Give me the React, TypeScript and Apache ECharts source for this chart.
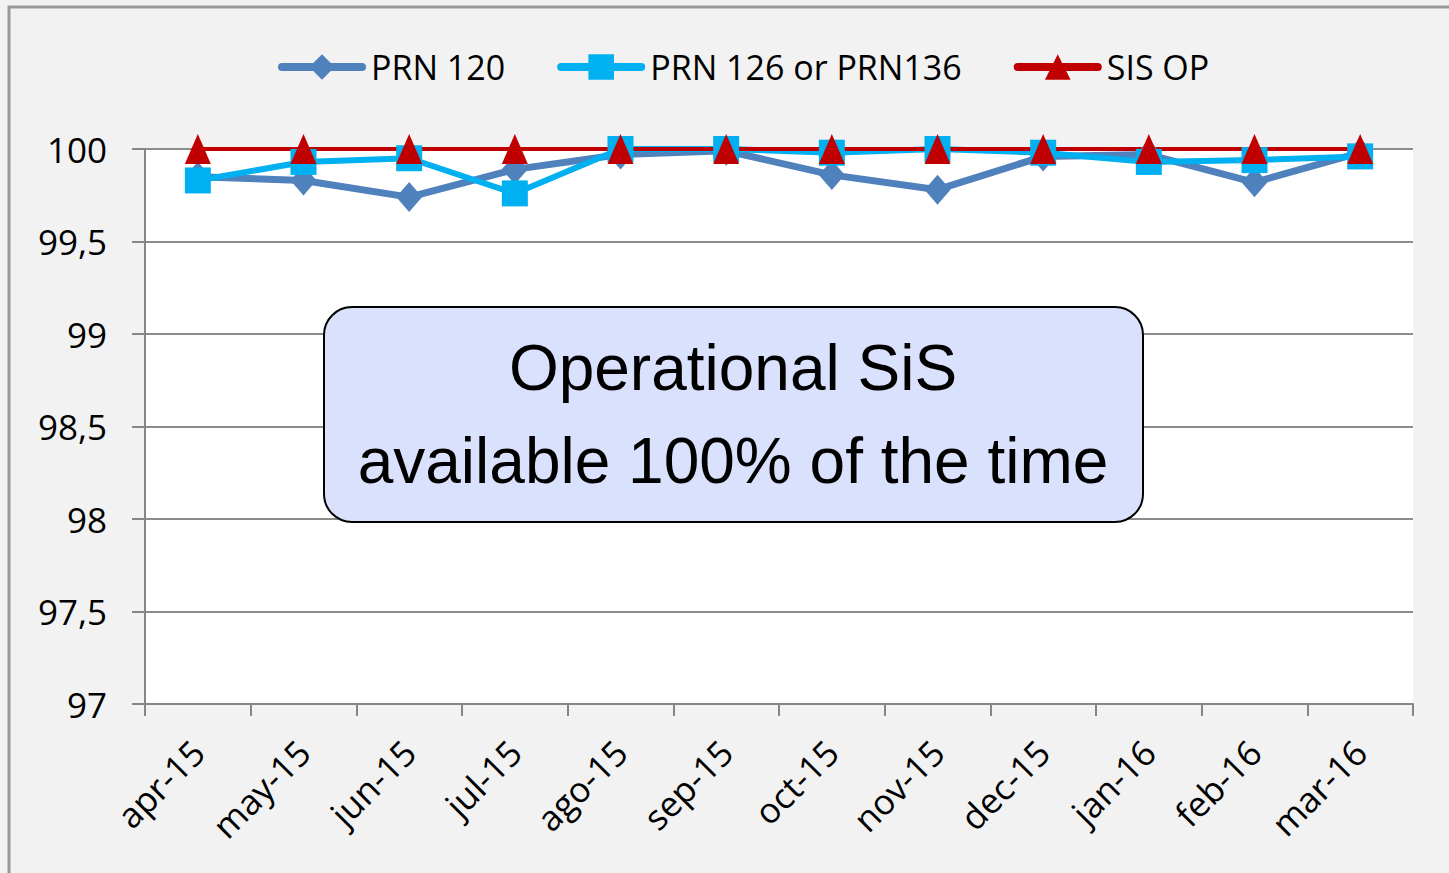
import React, { useEffect, useRef } from "react";
import * as echarts from "echarts";

const categories = ["apr-15", "may-15", "jun-15", "jul-15", "ago-15", "sep-15", "oct-15", "nov-15", "dec-15", "jan-16", "feb-16", "mar-16"];
const prn120 = [99.85, 99.83, 99.74, 99.89, 99.97, 99.99, 99.86, 99.78, 99.96, 99.97, 99.82, 99.98];
const prn126 = [99.83, 99.93, 99.95, 99.76, 100, 100, 99.98, 100, 99.98, 99.93, 99.94, 99.96];
const sisOp = [100, 100, 100, 100, 100, 100, 100, 100, 100, 100, 100, 100];
const boxLines = ["Operational SiS", "available 100% of the time"];

export default function App() {
  const ref = useRef<HTMLDivElement>(null);
  useEffect(() => {
    const chart = echarts.init(ref.current!, null, { renderer: "svg" });
    const font = "'Open Sans', sans-serif";
    chart.setOption({
      animation: false,
      backgroundColor: "#f2f2f2",
      textStyle: { fontFamily: font },
      legend: {
        top: 45,
        left: 273,
        itemWidth: 80,
        itemHeight: 32,
        itemGap: 52,
        textStyle: { fontSize: 34, color: "#000", fontFamily: font, padding: [0, 0, 0, 4] },
        lineStyle: { width: 8, cap: "round" },
        data: ["PRN 120", "PRN 126 or PRN136", "SIS OP"],
      },
      grid: {
        left: 145,
        right: 36,
        top: 149,
        bottom: 169,
        show: true,
        backgroundColor: "#ffffff",
        borderWidth: 0,
      },
      xAxis: {
        type: "category",
        data: categories,
        boundaryGap: true,
        axisLine: { lineStyle: { color: "#868686", width: 2 } },
        axisTick: { show: true, length: 12, lineStyle: { color: "#868686", width: 2 }, alignWithLabel: false },
        axisLabel: { rotate: 45, fontSize: 35, color: "#000", fontFamily: font, margin: 42, interval: 0 },
      },
      yAxis: {
        type: "value",
        min: 97,
        max: 100,
        interval: 0.5,
        axisLine: { show: true, lineStyle: { color: "#868686", width: 2 } },
        axisTick: { show: true, length: 13, lineStyle: { color: "#868686", width: 2 } },
        splitLine: { lineStyle: { color: "#8c8c8c", width: 2 } },
        axisLabel: {
          fontSize: 35,
          color: "#000",
          fontFamily: font,
          margin: 38,
          formatter: (v: number) => String(v).replace(".", ","),
        },
      },
      series: [
        {
          name: "PRN 120",
          type: "line",
          data: prn120,
          symbol: "diamond",
          symbolSize: [26, 30],
          lineStyle: { color: "#4f81bd", width: 7 },
          itemStyle: { color: "#4f81bd" },
        },
        {
          name: "PRN 126 or PRN136",
          type: "line",
          data: prn126,
          symbol: "rect",
          symbolSize: 26,
          lineStyle: { color: "#00b0f0", width: 6 },
          itemStyle: { color: "#00b0f0" },
        },
        {
          name: "SIS OP",
          type: "line",
          data: sisOp,
          symbol: "triangle",
          symbolSize: [26, 30],
          lineStyle: { color: "#c00000", width: 4 },
          itemStyle: { color: "#c00000" },
        },
      ],
      graphic: [
        {
          type: "rect",
          shape: { x: 9, y: 7, width: 1500, height: 900 },
          style: { fill: "none", stroke: "#999999", lineWidth: 3 },
          silent: true,
        },
        {
          type: "rect",
          shape: { x: 324, y: 307, width: 819, height: 215, r: 28 },
          style: { fill: "#d9e1fc", stroke: "#000", lineWidth: 2 },
          z: 100,
        },
        {
          type: "text",
          x: 733,
          y: 368,
          style: { text: boxLines[0], fontSize: 64, fontFamily: "'Liberation Sans', Arial, sans-serif", fill: "#000", align: "center", verticalAlign: "middle" },
          z: 101,
        },
        {
          type: "text",
          x: 733,
          y: 461,
          style: { text: boxLines[1], fontSize: 64, fontFamily: "'Liberation Sans', Arial, sans-serif", fill: "#000", align: "center", verticalAlign: "middle" },
          z: 101,
        },
      ],
    });
    return () => chart.dispose();
  }, []);
  return <div ref={ref} style={{ position: "absolute", left: 0, top: 0, width: 1449, height: 873 }} />;
}
